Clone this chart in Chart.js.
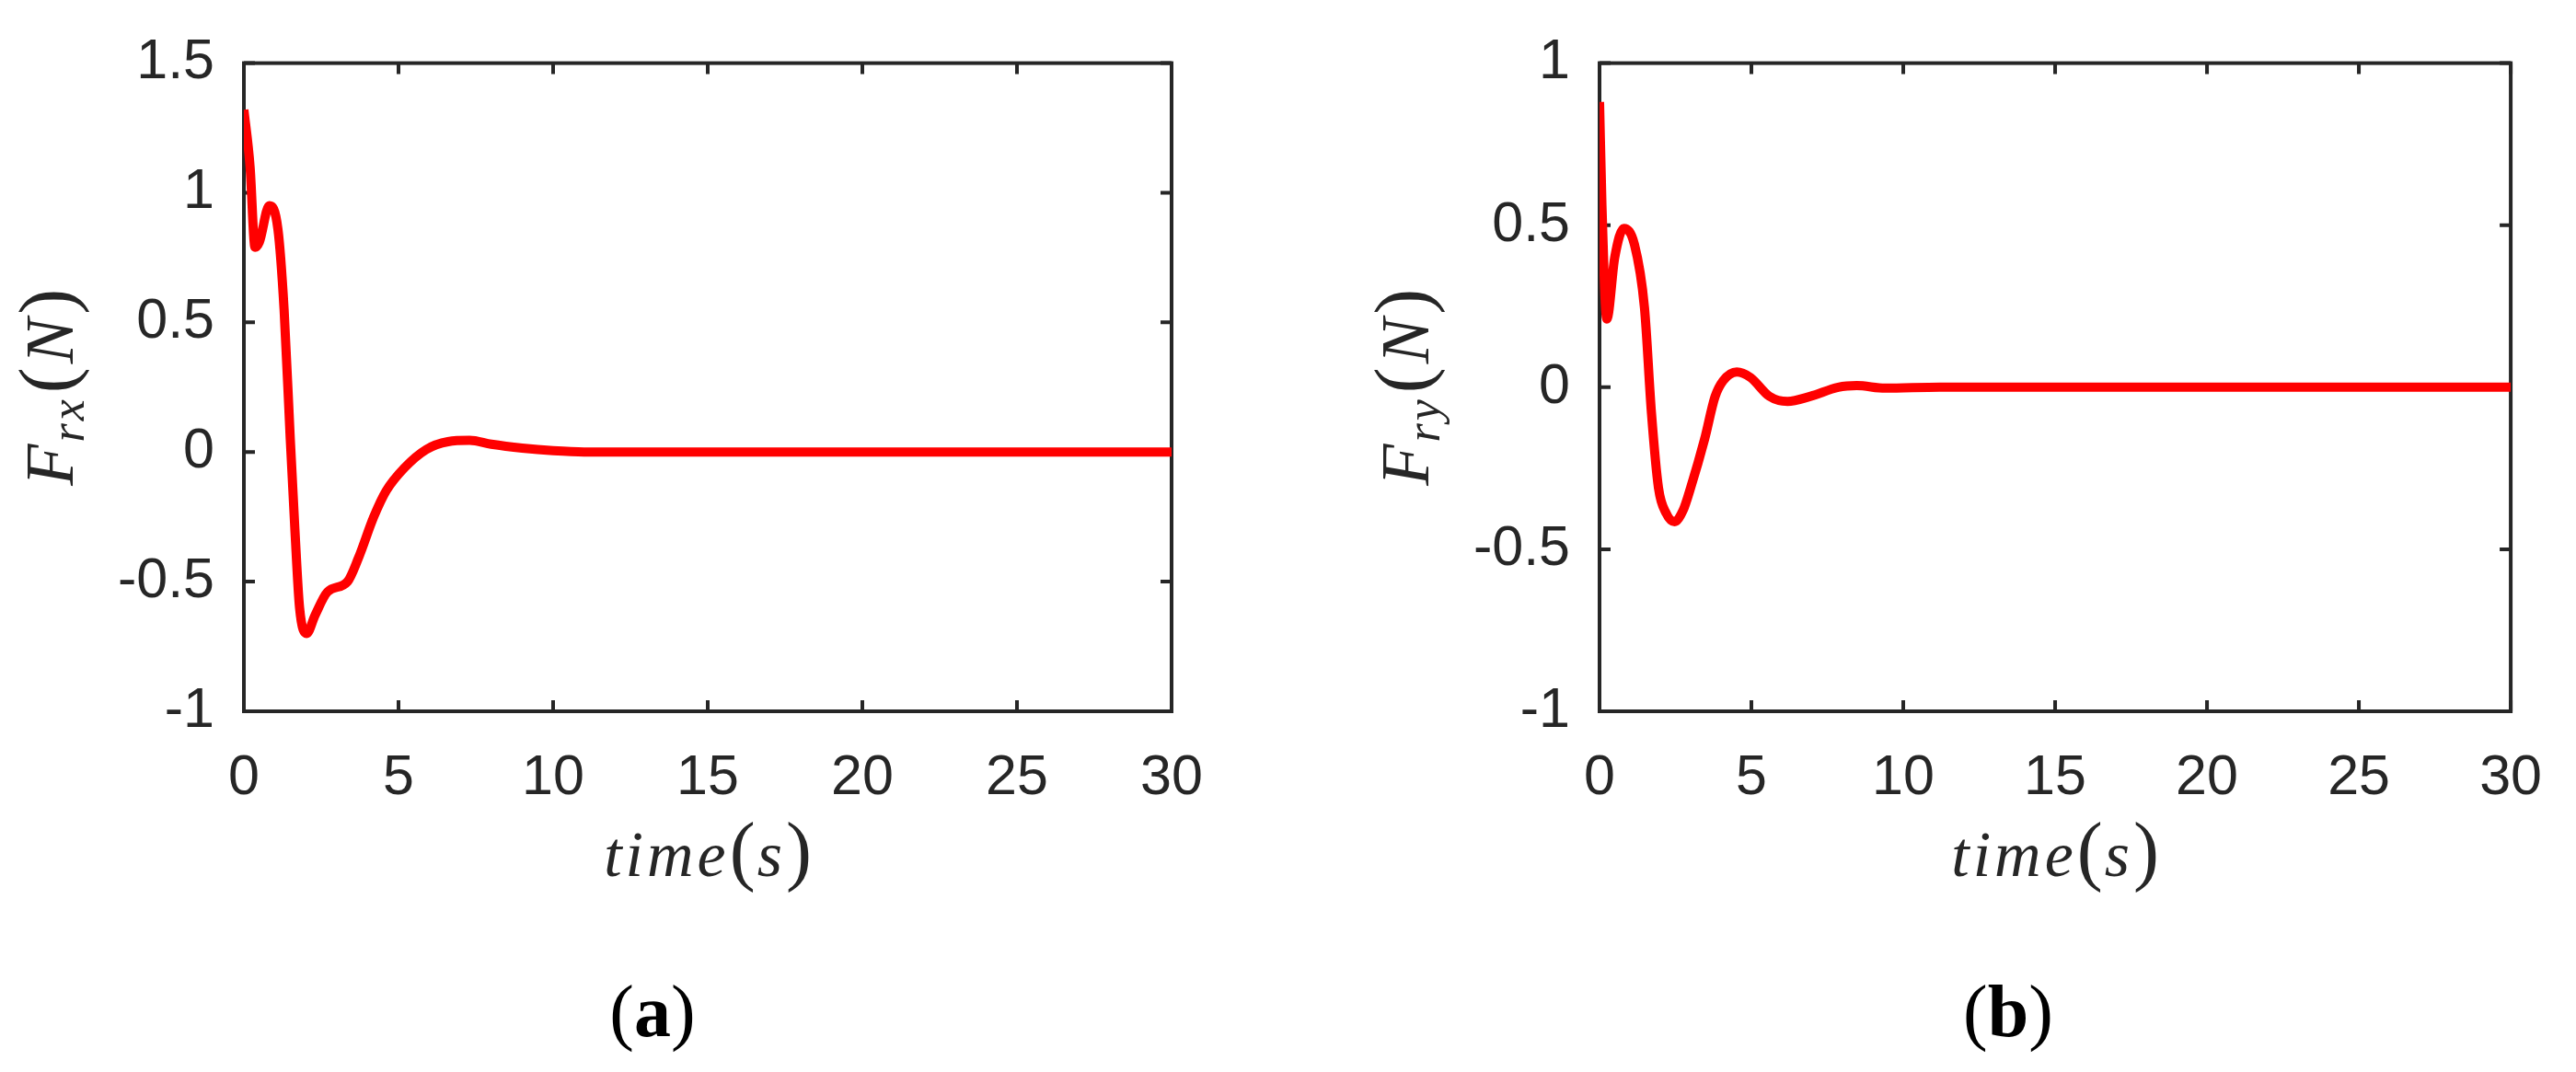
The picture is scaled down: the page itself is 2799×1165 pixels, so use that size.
<!DOCTYPE html>
<html>
<head>
<meta charset="utf-8">
<script src="https://cdn.jsdelivr.net/npm/chart.js@4.4.1/dist/chart.umd.min.js"></script>
<style>
  html, body { margin: 0; padding: 0; background: #fff; }
  #wrap { position: relative; width: 2799px; height: 1165px; }
  canvas { position: absolute; top: 0; }
</style>
</head>
<body>
<div id="wrap">
  <canvas id="chartA" width="1400" height="1165" style="left:0;width:1400px;height:1165px"></canvas>
  <canvas id="chartB" width="1399" height="1165" style="left:1400px;width:1399px;height:1165px"></canvas>
</div>
<script>
// (a) F_rx over time
const timeA = [0, 0.2, 0.36, 0.5, 0.82, 1.1, 1.3, 1.5, 1.65, 1.8, 2.03, 2.3, 2.7, 3.35, 3.7, 4.2, 4.6, 5.2, 5.9, 6.6, 7.3, 8.0, 9.0, 10, 11, 13, 15, 20, 25, 30];
const frx   = [1.32, 1.1, 0.79, 0.81, 0.95, 0.86, 0.55, 0.05, -0.3, -0.6, -0.7, -0.63, -0.54, -0.5, -0.41, -0.25, -0.15, -0.06, 0.01, 0.04, 0.045, 0.03, 0.015, 0.005, 0, 0, 0, 0, 0, 0];

// (b) F_ry over time
const timeB = [0, 0.08, 0.24, 0.5, 0.8, 1.15, 1.48, 1.71, 1.94, 2.2, 2.47, 2.75, 3.0, 3.46, 3.8, 4.07, 4.52, 4.97, 5.59, 6.19, 6.95, 7.86, 8.47, 9.4, 11.2, 15, 20, 25, 30];
const fry   = [0.88, 0.56, 0.21, 0.4, 0.49, 0.44, 0.245, -0.08, -0.31, -0.39, -0.415, -0.38, -0.31, -0.16, -0.03, 0.02, 0.047, 0.03, -0.028, -0.044, -0.028, 0, 0.005, -0.003, 0, 0, 0, 0, 0];

const xTicks  = [0, 5, 10, 15, 20, 25, 30];
const yTicksA = [-1, -0.5, 0, 0.5, 1, 1.5];
const yTicksB = [-1, -0.5, 0, 0.5, 1];

const INK = '#262626';
const SERIF = '"Liberation Serif", "Times New Roman", serif';

// draws a row of text pieces centred on cx
function drawRun(ctx, pieces, cx, baseline) {
  let total = 0;
  pieces.forEach(p => {
    ctx.font = p.font;
    ctx.letterSpacing = p.ls || '0px';
    p.w = ctx.measureText(p.text).width + (p.gap || 0);
    total += p.w;
  });
  let x = cx - total / 2;
  pieces.forEach(p => {
    ctx.font = p.font;
    ctx.letterSpacing = p.ls || '0px';
    ctx.fillText(p.text, x, baseline + (p.dy || 0));
    x += p.w;
  });
  ctx.letterSpacing = '0px';
}

// box with inward ticks on all four sides
const framePlugin = {
  id: 'frame',
  beforeDatasetsDraw(chart) {
    const { ctx, chartArea: a, scales: { x, y } } = chart;
    ctx.save();
    ctx.strokeStyle = INK;
    ctx.lineWidth = 4;
    ctx.strokeRect(a.left, a.top, a.right - a.left, a.bottom - a.top);
    ctx.beginPath();
    x.ticks.forEach(t => {
      const px = x.getPixelForValue(t.value);
      ctx.moveTo(px, a.bottom); ctx.lineTo(px, a.bottom - 12);
      ctx.moveTo(px, a.top); ctx.lineTo(px, a.top + 12);
    });
    y.ticks.forEach(t => {
      const py = y.getPixelForValue(t.value);
      ctx.moveTo(a.left, py); ctx.lineTo(a.left + 12, py);
      ctx.moveTo(a.right, py); ctx.lineTo(a.right - 12, py);
    });
    ctx.stroke();
    ctx.restore();
  }
};

// axis titles and panel letter
const titlePlugin = {
  id: 'titles',
  afterDraw(chart, args, opts) {
    const { ctx, chartArea: a } = chart;
    ctx.save();
    ctx.fillStyle = INK;
    ctx.textBaseline = 'alphabetic';
    ctx.textAlign = 'left';

    drawRun(ctx, [
      { text: 'time', font: 'italic 70px ' + SERIF, ls: '4px' },
      { text: '(', font: '84px ' + SERIF, gap: 2 },
      { text: 's', font: 'italic 70px ' + SERIF, gap: 4 },
      { text: ')', font: '84px ' + SERIF }
    ], (a.left + a.right) / 2, a.bottom + 179);

    ctx.save();
    ctx.translate(a.left - 186, (a.top + a.bottom) / 2);
    ctx.rotate(-Math.PI / 2);
    drawRun(ctx, [
      { text: 'F', font: 'italic 74px ' + SERIF, gap: 2 },
      { text: opts.sub, font: 'italic 52px ' + SERIF, dy: 12, ls: '3px', gap: 4 },
      { text: '(', font: '84px ' + SERIF, gap: 4 },
      { text: 'N', font: 'italic 74px ' + SERIF, gap: 4 },
      { text: ')', font: '84px ' + SERIF }
    ], 0, 0);
    ctx.restore();

    ctx.fillStyle = '#000';
    drawRun(ctx, [
      { text: '(', font: '80px ' + SERIF },
      { text: opts.panel, font: 'bold 80px ' + SERIF },
      { text: ')', font: '80px ' + SERIF }
    ], a.left + 444, a.bottom + 353);
    ctx.restore();
  }
};

function makeChart(id, times, values, yTicks, yMin, yMax, sub, panel, axisWidth, pad) {
  return new Chart(document.getElementById(id), {
    type: 'line',
    data: {
      datasets: [{
        data: times.map((t, i) => ({ x: t, y: values[i] })),
        borderColor: '#ff0000',
        borderWidth: 10,
        pointRadius: 0,
        cubicInterpolationMode: 'monotone',
        fill: false
      }]
    },
    options: {
      responsive: false,
      animation: false,
      devicePixelRatio: 1,
      layout: { padding: pad },
      plugins: {
        legend: { display: false },
        tooltip: { enabled: false },
        titles: { sub: sub, panel: panel }
      },
      scales: {
        x: {
          type: 'linear',
          min: 0, max: 30,
          afterBuildTicks: s => { s.ticks = xTicks.map(v => ({ value: v })); },
          afterFit: s => { s.height = 392; },
          grid: { display: false, drawTicks: false },
          border: { display: false },
          ticks: {
            autoSkip: false, maxRotation: 0, padding: 37, color: INK,
            font: { family: '"Liberation Sans", Arial, sans-serif', size: 61 },
            callback: v => String(v)
          }
        },
        y: {
          type: 'linear',
          min: yMin, max: yMax,
          afterBuildTicks: s => { s.ticks = yTicks.map(v => ({ value: v })); },
          afterFit: s => { s.width = axisWidth; },
          grid: { display: false, drawTicks: false },
          border: { display: false },
          ticks: {
            autoSkip: false, padding: 32, color: INK,
            font: { family: '"Liberation Sans", Arial, sans-serif', size: 61 },
            callback: v => String(v)
          }
        }
      }
    },
    plugins: [framePlugin, titlePlugin]
  });
}

makeChart('chartA', timeA, frx, yTicksA, -1, 1.5, 'rx', 'a', 265, { top: 59, right: 127, left: 0, bottom: 0 });
makeChart('chartB', timeB, fry, yTicksB, -1, 1, 'ry', 'b', 338, { top: 56, right: 54, left: 0, bottom: 0 });
</script>
</body>
</html>
